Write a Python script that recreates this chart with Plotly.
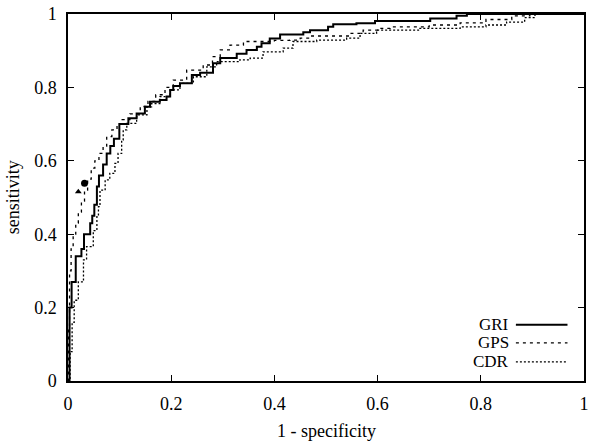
import plotly.graph_objects as go

# ROC step curves (1 - specificity, sensitivity)
gri_fpr = [0, 0.003, 0.007, 0.015, 0.026, 0.031, 0.043, 0.047, 0.051, 0.056, 0.060, 0.068, 0.075, 0.082, 0.089, 0.0995,
           0.117, 0.133, 0.149, 0.159, 0.178, 0.191, 0.198, 0.204, 0.217, 0.240, 0.256, 0.281, 0.295, 0.327, 0.346,
           0.366, 0.375, 0.391, 0.411, 0.456, 0.469, 0.504, 0.514, 0.559, 0.595, 0.702, 0.753, 0.773, 1.0]
gri_tpr = [0, 0.20, 0.27, 0.34, 0.36, 0.40, 0.43, 0.45, 0.48, 0.53, 0.56, 0.59, 0.62, 0.64, 0.66, 0.70,
           0.716, 0.729, 0.747, 0.761, 0.766, 0.775, 0.793, 0.804, 0.811, 0.834, 0.840, 0.866, 0.880, 0.892, 0.902,
           0.911, 0.920, 0.933, 0.944, 0.950, 0.956, 0.965, 0.972, 0.975, 0.981, 0.988, 0.995, 1.0, 1.0]

gps_fpr = [0, 0.001, 0.003, 0.006, 0.010, 0.015, 0.020, 0.026, 0.032, 0.038, 0.045, 0.052, 0.060, 0.068, 0.075, 0.085,
           0.095, 0.105, 0.120, 0.140, 0.155, 0.170, 0.188, 0.204, 0.230, 0.262, 0.280, 0.295, 0.314, 0.340, 0.400,
           0.430, 0.450, 0.469, 0.547, 0.572, 0.605, 0.624, 0.700, 0.760, 0.810, 0.860, 0.895, 1.0]
gps_tpr = [0, 0.15, 0.30, 0.36, 0.40, 0.43, 0.46, 0.49, 0.52, 0.55, 0.58, 0.60, 0.62, 0.64, 0.666, 0.684,
           0.700, 0.712, 0.728, 0.748, 0.762, 0.780, 0.800, 0.820, 0.847, 0.861, 0.884, 0.902, 0.915, 0.925, 0.928,
           0.929, 0.934, 0.940, 0.947, 0.956, 0.961, 0.965, 0.970, 0.976, 0.985, 0.995, 1.0, 1.0]

cdr_fpr = [0, 0.004, 0.008, 0.012, 0.020, 0.030, 0.036, 0.049, 0.056, 0.059, 0.062, 0.072, 0.081, 0.091, 0.097, 0.104,
           0.107, 0.114, 0.133, 0.153, 0.162, 0.178, 0.198, 0.217, 0.243, 0.269, 0.288, 0.333, 0.353, 0.378, 0.417,
           0.436, 0.482, 0.540, 0.566, 0.598, 0.682, 0.760, 0.810, 0.850, 0.885, 0.905, 1.0]
cdr_tpr = [0, 0.08, 0.16, 0.22, 0.27, 0.33, 0.366, 0.41, 0.448, 0.475, 0.52, 0.548, 0.566, 0.593, 0.620, 0.657,
           0.684, 0.702, 0.725, 0.747, 0.756, 0.775, 0.793, 0.811, 0.829, 0.856, 0.870, 0.875, 0.880, 0.897, 0.907,
           0.925, 0.929, 0.934, 0.947, 0.956, 0.961, 0.965, 0.970, 0.978, 0.990, 1.0, 1.0]

# single operating points
point_fpr = [0.032, 0.020]
point_tpr = [0.539, 0.516]

x_ticks = [0, 0.2, 0.4, 0.6, 0.8, 1]
x_tick_text = ["0", "0.2", "0.4", "0.6", "0.8", "1"]
y_ticks = [0, 0.2, 0.4, 0.6, 0.8, 1]
y_tick_text = ["0", "0.2", "0.4", "0.6", "0.8", "1"]

legend_names = ["GRI", "GPS", "CDR"]
x_title = "1 - specificity"
y_title = "sensitivity"

FONT = "Liberation Serif, Times New Roman, serif"
FS = 18

fig = go.Figure()
fig.add_trace(go.Scatter(x=gri_fpr, y=gri_tpr, mode="lines", line=dict(color="black", width=2, shape="hv"),
                         name="GRI", showlegend=False))
fig.add_trace(go.Scatter(x=gps_fpr, y=gps_tpr, mode="lines", line=dict(color="black", width=1.3, shape="hv", dash="3px,4px"),
                         name="GPS", showlegend=False))
fig.add_trace(go.Scatter(x=cdr_fpr, y=cdr_tpr, mode="lines", line=dict(color="black", width=1.3, shape="hv", dash="2px,2px"),
                         name="CDR", showlegend=False))
fig.add_trace(go.Scatter(x=point_fpr[:1], y=point_tpr[:1], mode="markers",
                         marker=dict(symbol="circle", size=7, color="black"), showlegend=False))
fig.add_trace(go.Scatter(x=point_fpr[1:], y=point_tpr[1:], mode="markers",
                         marker=dict(symbol="triangle-up", size=6, color="black"), showlegend=False))

# legend drawn manually (text left of sample line, as in the reference)
legend_dash = ["solid", "3px,4px", "2px,2px"]
legend_width = [2, 1.3, 1.3]
legend_y = [0.153, 0.104, 0.052]
for name, dash, w, yy in zip(legend_names, legend_dash, legend_width, legend_y):
    fig.add_annotation(x=0.859, y=yy, xref="paper", yref="paper", text=name, showarrow=False,
                       xanchor="right", yanchor="middle", font=dict(family=FONT, size=FS - 1, color="black"))
    fig.add_shape(type="line", xref="paper", yref="paper", x0=0.868, x1=0.968, y0=yy, y1=yy,
                  line=dict(color="black", width=w, dash=dash))

# axis titles
fig.add_annotation(x=0.5, y=0, xref="paper", yref="paper", text=x_title, showarrow=False,
                   xanchor="center", yanchor="top", yshift=-38, font=dict(family=FONT, size=FS, color="black"))
fig.add_annotation(x=0, y=0.501, xref="paper", yref="paper", text=y_title, showarrow=False, textangle=-90,
                   xanchor="center", yanchor="middle", xshift=-55, font=dict(family=FONT, size=FS, color="black"))

axis_common = dict(range=[0, 1], showgrid=False, zeroline=False, showline=True, linecolor="black", linewidth=1.5,
                   mirror="ticks", ticks="inside", ticklen=6, tickwidth=1, tickcolor="black", automargin=False,
                   tickfont=dict(family=FONT, size=FS, color="black"))

fig.update_layout(
    width=597, height=444,
    margin=dict(l=68, r=13, t=14, b=63),
    paper_bgcolor="white", plot_bgcolor="white",
    xaxis=dict(**axis_common, tickvals=x_ticks, ticktext=x_tick_text, ticklabelstandoff=6),
    yaxis=dict(**axis_common, tickvals=y_ticks, ticktext=y_tick_text, ticklabelstandoff=6),
    showlegend=False,
)

fig.write_html("out.html", config={"displayModeBar": False},
               post_script="document.body.style.margin='0';document.body.style.overflow='hidden';")
